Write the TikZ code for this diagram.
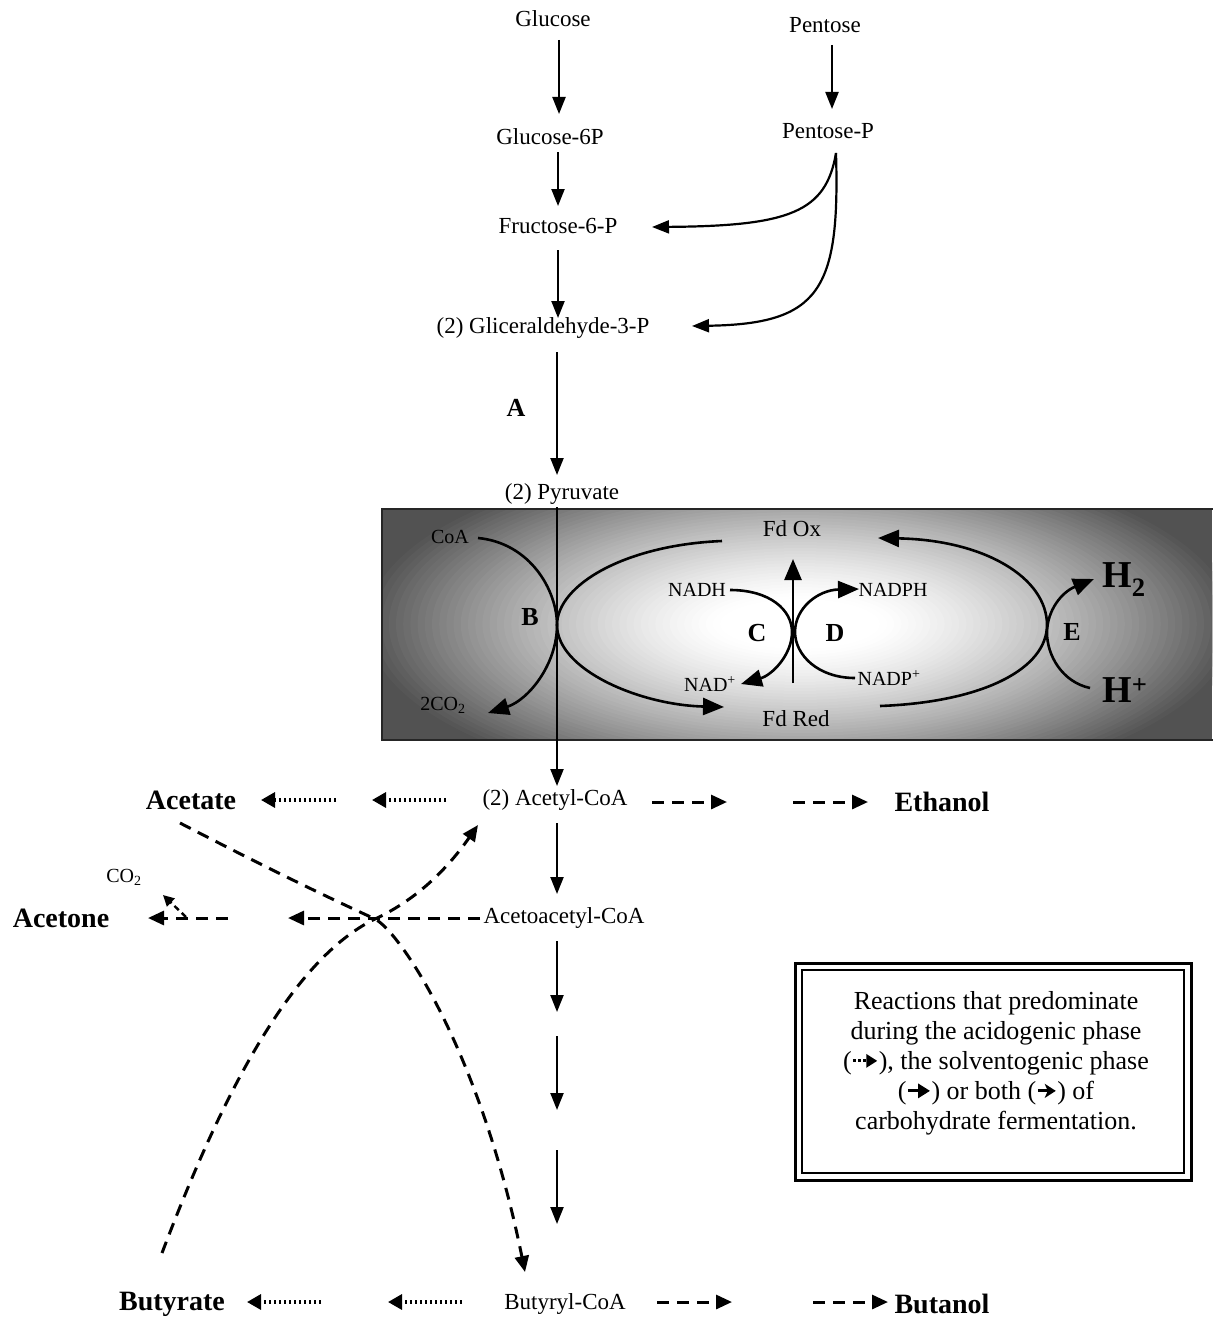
\documentclass[tikz,border=0pt]{standalone}
\usepackage{fontspec}
\setmainfont{Liberation Serif}
\usetikzlibrary{arrows.meta}
\newcommand\acidsym{\tikz[baseline=-0.7ex]\draw[line width=3pt,dash pattern=on 2.5pt off 2.5pt,-{Triangle[length=11pt,width=13pt]}] (0pt,0pt) -- (24pt,0pt);}
\newcommand\solvsym{\tikz[baseline=-0.7ex]\draw[line width=3pt,-{Triangle[length=12pt,width=14pt]}] (0pt,0pt) -- (10pt,0pt) (10pt,0pt) -- (22pt,0pt);}
\newcommand\bothsym{\tikz[baseline=-0.7ex]\draw[line width=3pt,-{Stealth[length=11pt,width=14pt,inset=3pt]}] (0pt,0pt) -- (18pt,0pt);}
\begin{document}
\begin{tikzpicture}[x=1pt,y=-1pt,
  lbl/.style={font=\fontsize{23}{27}\selectfont, inner sep=1pt},
  sml/.style={font=\fontsize{20}{24}\selectfont, inner sep=1pt},
  prod/.style={font=\fontsize{28}{32}\selectfont\bfseries, inner sep=1pt},
  enz/.style={font=\fontsize{26}{30}\selectfont\bfseries, inner sep=1pt},
  big/.style={font=\fontsize{38}{40}\selectfont\bfseries, inner sep=1pt},
  arr/.style={line width=2.2pt, -{Triangle[length=17pt,width=13pt]}},
  carr/.style={line width=2.6pt, -{Triangle[length=21pt,width=17pt]}},
  solv/.style={line width=3pt, dash pattern=on 12pt off 8pt, -{Triangle[length=16pt,width=14pt]}},
  acid/.style={line width=3.2pt, dash pattern=on 2.4pt off 2.6pt, -{Triangle[length=14pt,width=15pt]}}
]
\useasboundingbox (0,0) rectangle (1212,1319);
\fill[white] (0,0) rectangle (1212,1319);

% ---------- upper pathway ----------
\node[lbl] (glc) at (553,19) {Glucose};
\node[lbl] (pen) at (825,25) {Pentose};
\node[lbl] (g6p) at (550,137) {Glucose-6P};
\node[lbl] (pp) at (828,131) {Pentose-P};
\node[lbl] (f6p) at (558,226) {Fructose-6-P};
\node[lbl] (gap) at (543,328) {(2) Gliceraldehyde-3-P};
\node[enz] (A) at (516,408) {A};
\node[lbl] (pyr) at (562,494) {(2) Pyruvate};

\coordinate (c1) at (559,40);   \coordinate (c2) at (559,114);
\coordinate (c3) at (558,152);  \coordinate (c4) at (558,206);
\coordinate (c5) at (558,250);  \coordinate (c6) at (558,318);
\coordinate (c7) at (557,352);  \coordinate (c8) at (557,475);
\coordinate (p1) at (832,45);   \coordinate (p2) at (832,109);
\coordinate (pps) at (836,153);
\coordinate (f6pin) at (652,227);
\coordinate (gapin) at (692,326);

\draw[arr] (c1) -- (c2);
\draw[arr] (c3) -- (c4);
\draw[arr] (c5) -- (c6);
\draw[arr] (c7) -- (c8);
\draw[arr] (p1) -- (p2);
\draw[arr] (pps) .. controls (826,212) and (790,226) .. (f6pin);
\draw[arr] (pps) .. controls (840,290) and (820,324) .. (gapin);

% ---------- shaded box (stepped elliptical glow) ----------
\begin{scope}
  \clip (382,509) rectangle (1212,740);
  \fill[black!68] (382,509) rectangle (1212,740);
  \foreach \i in {0,...,50} {
    \pgfmathsetmacro\rx{440-7.2*\i}
    \pgfmathsetmacro\ry{175-3*\i}
    \pgfmathsetmacro\k{68*pow((50.001-\i)/50,1.35)}
    \fill[black!\k] (800,624) ellipse [x radius=\rx pt, y radius=\ry pt];
  }
\end{scope}
\draw[line width=2pt, black!85] (382,509) rectangle (1216,740);

\node[sml] (coa) at (450,537) {CoA};
\node[sml] (co2) at (443,705) {2CO\textsubscript{2}};
\node[enz] (B) at (530,617) {B};
\node[lbl] (fdox) at (792,529) {Fd Ox};
\node[lbl] (fdred) at (796,719) {Fd Red};
\node[sml] (nadh) at (697,590) {NADH};
\node[sml] (nad) at (710,684) {NAD\textsuperscript{+}};
\node[sml] (nadph) at (893,590) {NADPH};
\node[sml] (nadp) at (889,678) {NADP\textsuperscript{+}};
\node[enz] (C) at (757,633) {C};
\node[enz] (D) at (835,633) {D};
\node[enz] (E) at (1072,632) {E};
\node[big] (h2) at (1124,580) {H\textsubscript{2}};
\node[big] (hp) at (1125,690) {H\textsuperscript{+}};

\coordinate (bA) at (478,538);  \coordinate (bB) at (557,625); \coordinate (bC) at (488,713);
\coordinate (oL) at (722,541);  \coordinate (rL) at (724,707);
\coordinate (rR) at (880,706);  \coordinate (oR) at (878,538);
\coordinate (eM) at (1047,625);
\coordinate (cA) at (730,590);  \coordinate (cB) at (741,684);
\coordinate (dA) at (855,678);  \coordinate (dB) at (859,589);
\coordinate (vA) at (793,683);  \coordinate (vB) at (793,559);
\coordinate (hA) at (1090,688); \coordinate (hB) at (1094,579);

\draw[carr] (bA) .. controls (530,543) and (557,590) .. (bB) .. controls (557,665) and (528,700) .. (bC);
\draw[line width=2.6pt] (oL) .. controls (625,545) and (557,585) .. (bB);
\draw[carr] (bB) .. controls (557,670) and (640,705) .. (rL);
\draw[carr] (rR) .. controls (985,702) and (1047,668) .. (eM) .. controls (1047,578) and (985,540) .. (oR);
\draw[carr] (cA) .. controls (770,590) and (792,610) .. (792,632) .. controls (792,655) and (772,675) .. (cB);
\draw[carr] (dA) .. controls (818,678) and (795,655) .. (795,632) .. controls (795,608) and (818,590) .. (dB);
\draw[carr] (vA) -- (vB);
\draw[carr] (hA) .. controls (1062,682) and (1047,655) .. (1047,633) .. controls (1047,610) and (1062,592) .. (hB);

% ---------- lower pathway ----------
\node[lbl] (acoa) at (555,800) {(2) Acetyl-CoA};
\node[prod] (acet) at (191,800) {Acetate};
\node[prod] (eth) at (942,802) {Ethanol};
\node[lbl] (aacoa) at (564,918) {Acetoacetyl-CoA};
\node[prod] (acetone) at (61,918) {Acetone};
\node[sml] (co2b) at (124,877) {CO\textsubscript{2}};
\node[lbl] (bcoa) at (565,1304) {Butyryl-CoA};
\node[prod] (buta) at (172,1304) {Butyrate};
\node[prod] (buol) at (942,1304) {Butanol};

\coordinate (d1) at (557,507);  \coordinate (d2) at (557,786);
\coordinate (d3) at (557,823);  \coordinate (d4) at (557,894);
\coordinate (d5) at (557,941);  \coordinate (d6) at (557,1012);
\coordinate (d7) at (557,1036); \coordinate (d8) at (557,1110);
\coordinate (d9) at (557,1150); \coordinate (d10) at (557,1224);
\draw[arr] (d1) -- (d2);
\draw[arr] (d3) -- (d4);
\draw[arr] (d5) -- (d6);
\draw[arr] (d7) -- (d8);
\draw[arr] (d9) -- (d10);

% acetate (acidogenic)
\coordinate (ac1) at (446,800); \coordinate (ac2) at (372,800);
\coordinate (ac3) at (336,800); \coordinate (ac4) at (261,800);
\draw[acid] (ac1) -- (ac2);
\draw[acid] (ac3) -- (ac4);
% ethanol (solventogenic)
\coordinate (et1) at (652,802); \coordinate (et2) at (727,802);
\coordinate (et3) at (793,802); \coordinate (et4) at (868,802);
\draw[solv] (et1) -- (et2);
\draw[solv] (et3) -- (et4);
% acetone
\coordinate (at1) at (480,918); \coordinate (at2) at (288,918);
\coordinate (at3) at (228,918); \coordinate (at4) at (148,918);
\coordinate (at5) at (186,917); \coordinate (at6) at (163,895);
\draw[solv] (at1) -- (at2);
\draw[solv] (at3) -- (at4);
\draw[line width=2.4pt, dash pattern=on 6pt off 4pt, -{Triangle[length=11pt,width=11pt]}] (at5) -- (at6);
% butyrate / butanol
\coordinate (bu1) at (462,1302); \coordinate (bu2) at (388,1302);
\coordinate (bu3) at (321,1302); \coordinate (bu4) at (247,1302);
\draw[acid] (bu1) -- (bu2);
\draw[acid] (bu3) -- (bu4);
\coordinate (bn1) at (657,1302); \coordinate (bn2) at (732,1302);
\coordinate (bn3) at (813,1302); \coordinate (bn4) at (888,1302);
\draw[solv] (bn1) -- (bn2);
\draw[solv] (bn3) -- (bn4);

% crossing dashed curves
\coordinate (cv1) at (180,823);  \coordinate (cv2) at (525,1272);
\coordinate (cv3) at (162,1253); \coordinate (cv4) at (478,825);
\coordinate (cx) at (375,919);
\draw[solv] (cv1) .. controls (290,880) and (345,905) .. (cx) .. controls (400,932) and (480,1050) .. (cv2);
\draw[solv] (cv3) .. controls (220,1100) and (290,960) .. (cx) .. controls (420,898) and (450,865) .. (cv4);

% ---------- legend ----------
\draw[line width=3pt] (795,963) rectangle (1191,1180);
\draw[line width=1.5pt] (802,970) rectangle (1184,1173);
\node[align=center, font=\fontsize{26}{30}\selectfont, inner sep=0pt] (leg) at (996,1063)
  {Reactions that predominate\\during the acidogenic phase\\(\acidsym), the solventogenic phase\\(\solvsym) or both (\bothsym) of\\carbohydrate fermentation.};
\end{tikzpicture}
\end{document}
